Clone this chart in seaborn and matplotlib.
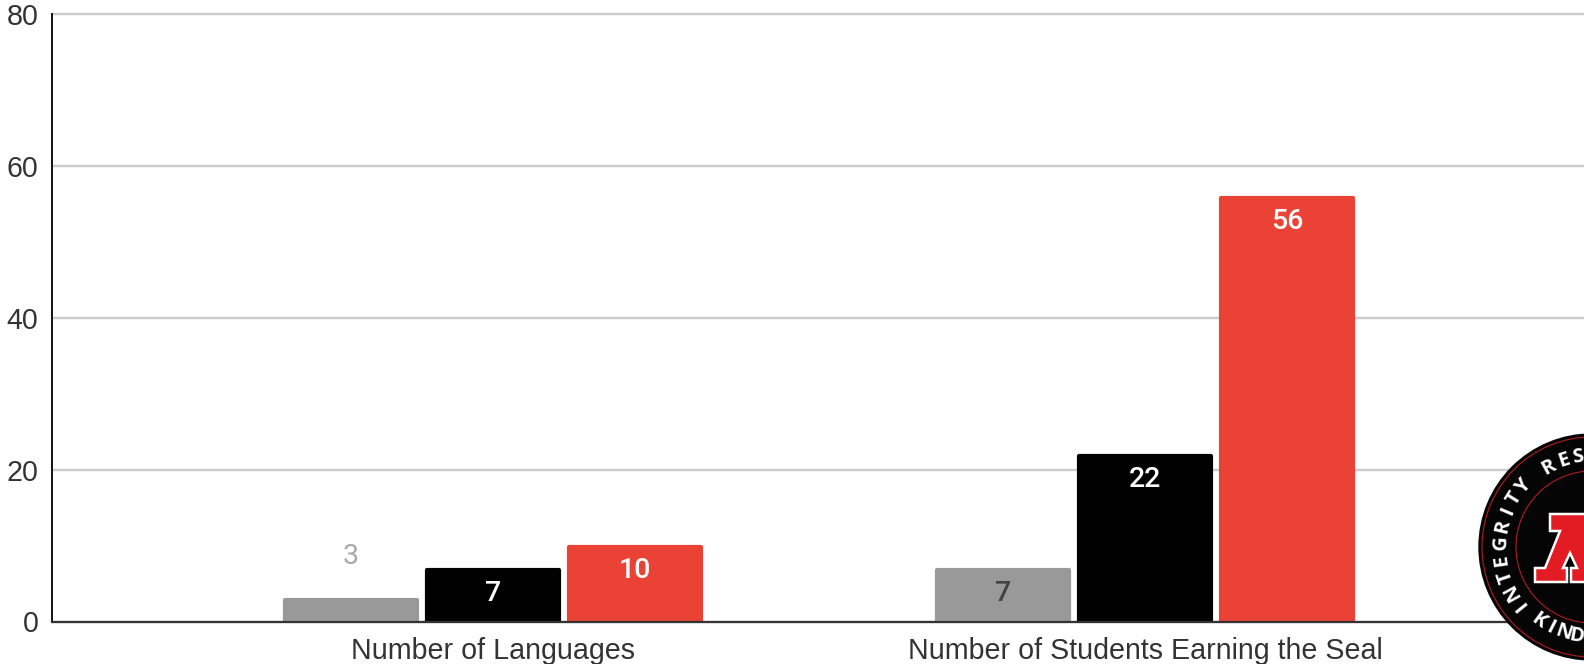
# Seal earners chart: grouped bars with a school logo in the corner
import matplotlib
matplotlib.use("Agg")
import numpy as np
import pandas as pd
import matplotlib.pyplot as plt
import seaborn as sns
from matplotlib.patches import Circle, Polygon

categories = ["Number of Languages", "Number of Students Earning the Seal"]
years = ["Year 1", "Year 2", "Year 3"]
year1_values = [3, 7]
year2_values = [7, 22]
year3_values = [10, 56]
y_ticks = [0, 20, 40, 60, 80]
bar_colors = ["#999999", "#000000", "#ea4335"]

df = pd.DataFrame({
    "Category": categories * 3,
    "Year": np.repeat(years, 2),
    "Value": year1_values + year2_values + year3_values,
})

sns.set_theme(style="white")
plt.rcParams["font.family"] = ["Liberation Sans", "DejaVu Sans"]

fig = plt.figure(figsize=(15.84, 6.64), dpi=100)
# axes box from the picture, it runs off the right edge
ax = fig.add_axes([51.5 / 1584, 1 - 621.5 / 664, 1 - 51.5 / 1584, (621.5 - 14) / 664])

sns.barplot(data=df, x="Category", y="Value", hue="Year", palette=bar_colors,
            width=0.653, gap=0.05, legend=False, saturation=1, ax=ax, zorder=3)

ax.set_xlim((51.5 - 493) / 652, (1584 - 493) / 652)
ax.set_ylim(0, 80)
ax.set_yticks(y_ticks)
ax.set_xlabel("")
ax.set_ylabel("")
ax.grid(axis="y", color="#cccccc", linewidth=1.7, zorder=0)
ax.set_axisbelow(True)
for line in ax.get_ygridlines():
    line.set_clip_on(False)
ax.tick_params(axis="both", length=0, labelsize=20.6, labelcolor="#333333")
ax.tick_params(axis="x", pad=11)
ax.tick_params(axis="y", pad=9.5)

for side in ["top", "right"]:
    ax.spines[side].set_visible(False)
ax.spines["left"].set_color("#111111")
ax.spines["left"].set_linewidth(1.4)
ax.spines["bottom"].set_color("#333333")
ax.spines["bottom"].set_linewidth(1.6)
ax.spines["left"].set_zorder(5)
ax.spines["bottom"].set_zorder(5)

# data labels, inside the bar unless it is too short
for container, color in zip(ax.containers, ["#444444", "white", "white"]):
    for bar in container:
        h = bar.get_height()
        x = bar.get_x() + bar.get_width() / 2
        if h < 4:
            ax.text(x, h + 5.5, f"{h:.0f}", ha="center", va="center", color="#a8a8a8",
                    fontsize=20.5, family="Roboto")
        else:
            ax.text(x, h - 3.3, f"{h:.0f}", ha="center", va="center", color=color,
                    fontsize=20.5, family="Roboto", fontweight="medium", zorder=6)

# small rounded corners: round joined edge, bar pulled in by the same amount
px_x = 1 / 652
px_y = 80 / 607.5
for bar in ax.patches:
    bar.set_edgecolor(bar.get_facecolor())
    bar.set_linewidth(3)
    bar.set_joinstyle("round")
    bar.set_x(bar.get_x() + 1.5 * px_x)
    bar.set_width(bar.get_width() - 2.5 * px_x)
    bar.set_height(bar.get_height() - 1.5 * px_y)

# logo, drawn on an overlay in pixel coordinates
logo = fig.add_axes([0, 0, 1, 1], zorder=10)
logo.set_xlim(0, 1584)
logo.set_ylim(664, 0)
logo.axis("off")
logo.patch.set_alpha(0)

cx, cy = 1592, 547
logo.add_patch(Circle((cx, cy), 113, color="#050505", zorder=1))
logo.add_patch(Circle((cx, cy), 110, fill=False, ec="#b01c24", lw=0.8, zorder=2))
logo.add_patch(Circle((cx, cy), 76, fill=False, ec="#b01c24", lw=0.8, zorder=2))

letters = list("INTEGRITY") + list("RES") + list("KIND")
angles = [219, 209, 199, 188, 177.5, 167, 157, 148, 139, 118.5, 108, 99, 234, 243, 251.5, 260]
for ch, ang in zip(letters, angles):
    px = cx + 91 * np.cos(np.radians(ang))
    py = cy - 91 * np.sin(np.radians(ang))
    rot = ang - 270 if ang > 225 else ang - 90
    logo.text(px, py, ch, color="white", fontsize=14.5, fontweight="bold",
              family="Open Sans", ha="center", va="center", rotation=rot, zorder=3)

letter_a = [(1535, 582), (1535, 568), (1545, 568), (1560, 531), (1550, 531), (1550, 514),
            (1600, 514), (1600, 582), (1571, 582), (1571, 568), (1577, 568), (1570, 553),
            (1563, 568), (1567, 568), (1567, 582)]
logo.add_patch(Polygon(letter_a, closed=True, fc="#e31b23", ec="white", lw=1.8,
                       joinstyle="miter", zorder=4))

fig.savefig("out.png", dpi=100)
